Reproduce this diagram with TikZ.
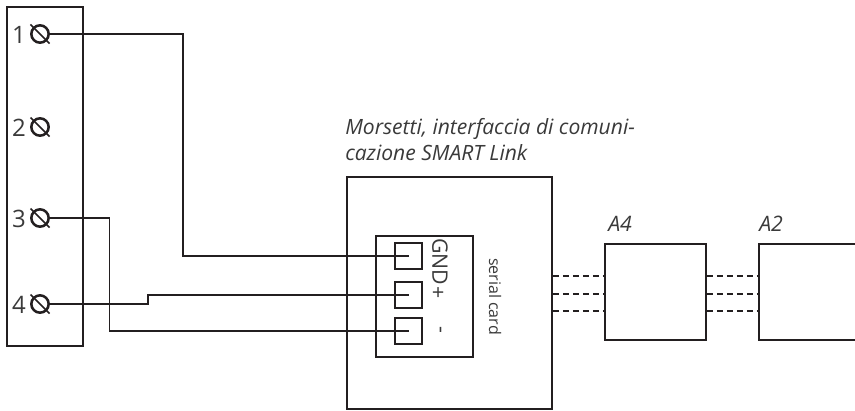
\documentclass[tikz,border=0pt]{standalone}
\usepackage{fontspec}
\setmainfont{Open Sans}
\definecolor{inkgray}{HTML}{231F20}
\definecolor{textgray}{HTML}{3A3A3A}
\tikzset{
  boxn/.style={draw=inkgray,line width=1.3pt,minimum width=#1,inner sep=0pt},
  screw/.style={circle,draw=inkgray,line width=1.9pt,minimum size=13pt,inner sep=0pt},
  wire/.style={draw=inkgray,line width=1.3pt},
  link/.style={draw=inkgray,line width=1.3pt,dash pattern=on 4.5pt off 3pt},
  lab/.style={text=textgray,font=\fontsize{16}{19}\selectfont,inner sep=0pt},
  num/.style={text=textgray,font=\fontsize{18}{20}\selectfont,inner sep=0pt},
}
\begin{document}
\begin{tikzpicture}[x=0.75pt,y=-0.75pt]
\useasboundingbox (0,0) rectangle (855,410);

\node[boxn=57pt,minimum height=254.25pt] (strip) at (45,176.5) {};
\node[boxn=153.75pt,minimum height=174pt] (main) at (449.5,293) {};
\node[boxn=72.75pt,minimum height=90.75pt] (card) at (424.5,296.5) {};
\node[boxn=75.75pt,minimum height=72pt] (aq) at (655.5,292) {};
\node[boxn=90pt,minimum height=72pt] (ad) at (819,292) {};

% terminals
\foreach \n/\y in {1/34,2/127,3/218,4/304}{
  \node[screw] (t\n) at (40,\y) {};
  \draw[wire] ([shift={(-9.5,-9.5)}]t\n.center) -- ([shift={(9.5,9.5)}]t\n.center);
  \node[num] (n\n) at (19,\y+1) {\n};
}

% pins
\node[boxn=20.25pt,minimum height=19.5pt] (p1) at (408.5,256) {};
\node[boxn=20.25pt,minimum height=19.5pt] (p2) at (408.5,295) {};
\node[boxn=20.25pt,minimum height=19.5pt] (p3) at (408.5,331) {};

\draw[wire] (t1.east) -- (183,34) -- (183,256) -- (p1.center);
\draw[wire] (t3.east) -- (109.5,218) -- (109.5,331) -- (p3.center);
\draw[wire] (t4.east) -- (148,304) -- (148,295) -- (p2.center);

% links
\foreach \y in {276,294,311}{
  \draw[link] (main.east |- 0,\y) -- (aq.west |- 0,\y);
  \draw[link] (aq.east |- 0,\y) -- (ad.west |- 0,\y);
}

\node[lab,anchor=west,align=left,font=\fontsize{15.8}{19.5}\selectfont\itshape] (title) at (345,140) {Morsetti, interfaccia di comuni-\\cazione SMART Link};
\node[lab,anchor=west,font=\fontsize{16}{19}\selectfont\itshape] (la) at (608,224) {A4};
\node[lab,anchor=west,font=\fontsize{16}{19}\selectfont\itshape] (lb) at (759,224) {A2};
\node[lab,rotate=-90,anchor=west] (gnd) at (440,238) {GND};
\node[lab,rotate=-90] (plus) at (437,293) {+};
\node[lab,rotate=-90] (minus) at (438,330) {-};
\node[lab,rotate=-90,font=\fontsize{12}{14}\selectfont] (serial) at (495,296.5) {serial card};
\end{tikzpicture}
\end{document}
